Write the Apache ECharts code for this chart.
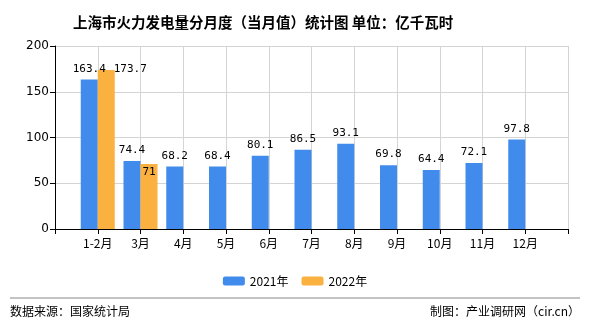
<!DOCTYPE html>
<html><head><meta charset="utf-8">
<script src="https://cdn.jsdelivr.net/npm/echarts@6/dist/echarts.min.js"></script>
<style>html,body{margin:0;padding:0;background:#fff}#c{width:590px;height:330px}</style>
</head><body><div id="c"></div>
<script>
const categories = ['', '1-2月', '3月', '4月', '5月', '6月', '7月', '8月', '9月', '10月', '11月', '12月', ''];
const values2021 = [null, 163.4, 74.4, 68.2, 68.4, 80.1, 86.5, 93.1, 69.8, 64.4, 72.1, 97.8, null];
const values2022 = [null, 173.7, 71, null, null, null, null, null, null, null, null, null, null];
const yTicks = [0, 50, 100, 150, 200];

const chart = echarts.init(document.getElementById('c'));
const lblFont = {color: '#000', fontSize: 11, fontFamily: 'DejaVu Sans Mono, monospace'};
const lbl = Object.assign({show: true, position: 'top', distance: 5}, lblFont);
const data2022 = values2022.map((v, i) => {
  if (i === 1) return {value: v, label: Object.assign({show: true, position: [16, -1], align: 'left', verticalAlign: 'middle'}, lblFont)};
  if (i === 2) return {value: v, label: Object.assign({show: true, position: 'insideTop', distance: 3}, lblFont)};
  return v;
});
chart.setOption({
  animation: false,
  title: {text: '上海市火力发电量分月度（当月值）统计图 单位：亿千瓦时', left: 68, top: 10,
    textStyle: {fontSize: 14.5, fontWeight: 'bold', color: '#000', fontFamily: 'Noto Sans CJK SC'}},
  legend: {top: 270, left: 'center', itemWidth: 22, itemHeight: 9, itemGap: 13,
    textStyle: {fontSize: 12, color: '#000', fontFamily: 'Noto Sans CJK SC'},
    data: ['2021年', '2022年']},
  grid: {left: 55, right: 22, top: 46, bottom: 101},
  xAxis: {type: 'category', data: categories, boundaryGap: false,
    axisLine: {lineStyle: {color: '#000'}},
    axisTick: {show: true, lineStyle: {color: '#000'}},
    axisLabel: {color: '#000', fontSize: 12, fontFamily: 'Noto Sans CJK SC', interval: 0},
    splitLine: {show: true, lineStyle: {color: '#d4d4d4'}}},
  yAxis: {type: 'value', min: 0, max: 200, interval: 50,
    axisLine: {show: true, lineStyle: {color: '#000'}},
    axisTick: {show: true, lineStyle: {color: '#000'}},
    axisLabel: {color: '#000', fontSize: 12, fontFamily: 'DejaVu Sans', margin: 6},
    splitLine: {show: true, lineStyle: {color: '#d4d4d4'}}},
  series: [
    {name: '2021年', type: 'bar', data: values2021, barWidth: 17, barGap: '0%', itemStyle: {color: '#418bec'}, label: lbl},
    {name: '2022年', type: 'bar', data: data2022, barWidth: 17, barGap: '0%', itemStyle: {color: '#fbb13f'}, label: lbl}
  ],
  graphic: [
    {type: 'line', shape: {x1: 10, y1: 298, x2: 580, y2: 298}, style: {stroke: '#888', lineWidth: 1}},
    {type: 'text', left: 10, top: 305, style: {text: '数据来源：国家统计局', fontSize: 12, fill: '#000', fontFamily: 'Noto Sans CJK SC'}},
    {type: 'text', right: 10, top: 305, style: {text: '制图：产业调研网（cir.cn）', fontSize: 12, fill: '#000', fontFamily: 'Noto Sans CJK SC'}}
  ]
});
</script></body></html>
